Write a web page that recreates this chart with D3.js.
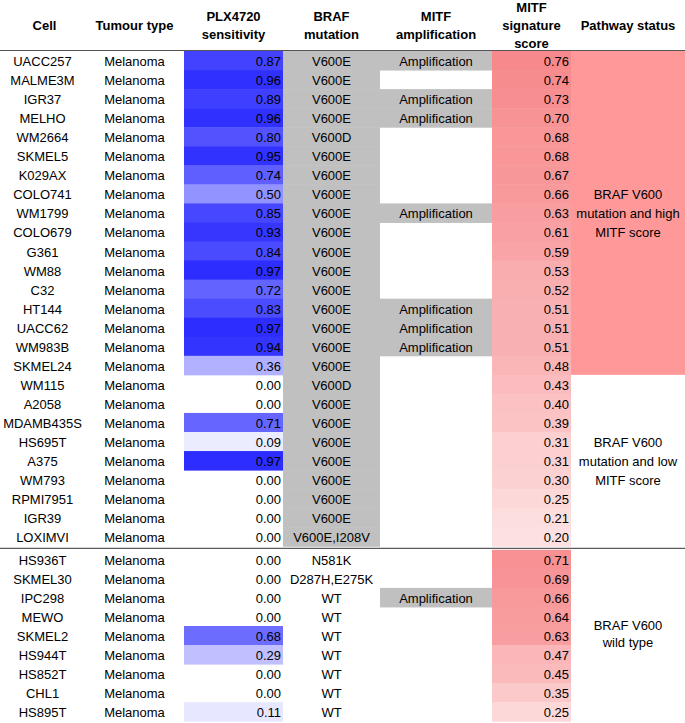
<!DOCTYPE html>
<html>
<head>
<meta charset="utf-8">
<script src="https://cdn.jsdelivr.net/npm/d3@7"></script>
<style>
  html, body { margin: 0; padding: 0; background: #fff; }
  svg { display: block; }
  text { font-family: "Liberation Sans", Arial, sans-serif; font-size: 13px; fill: #000; }
  .hdr { font-weight: bold; }
</style>
</head>
<body>
<svg id="chart" width="685" height="723"></svg>
<script>
const cells = ["UACC257","MALME3M","IGR37","MELHO","WM2664","SKMEL5","K029AX","COLO741","WM1799","COLO679","G361","WM88","C32","HT144","UACC62","WM983B","SKMEL24","WM115","A2058","MDAMB435S","HS695T","A375","WM793","RPMI7951","IGR39","LOXIMVI","HS936T","SKMEL30","IPC298","MEWO","SKMEL2","HS944T","HS852T","CHL1","HS895T"];
const tumour = cells.map(() => "Melanoma");
const plx = [0.87,0.96,0.89,0.96,0.80,0.95,0.74,0.50,0.85,0.93,0.84,0.97,0.72,0.83,0.97,0.94,0.36,0.00,0.00,0.71,0.09,0.97,0.00,0.00,0.00,0.00,0.00,0.00,0.00,0.00,0.68,0.29,0.00,0.00,0.11];
const braf = ["V600E","V600E","V600E","V600E","V600D","V600E","V600E","V600E","V600E","V600E","V600E","V600E","V600E","V600E","V600E","V600E","V600E","V600D","V600E","V600E","V600E","V600E","V600E","V600E","V600E","V600E,I208V","N581K","D287H,E275K","WT","WT","WT","WT","WT","WT","WT"];
const amplified = ["UACC257","IGR37","MELHO","WM1799","HT144","UACC62","WM983B","IPC298"];
const score = [0.76,0.74,0.73,0.70,0.68,0.68,0.67,0.66,0.63,0.61,0.59,0.53,0.52,0.51,0.51,0.51,0.48,0.43,0.40,0.39,0.31,0.31,0.30,0.25,0.21,0.20,0.71,0.69,0.66,0.64,0.63,0.47,0.45,0.35,0.25];
const groupNames = [["BRAF V600","mutation and high","MITF score"],["BRAF V600","mutation and low","MITF score"],["BRAF V600","wild type"]];
const groupStart = [0, 17, 26];
const groupEnd = [16, 25, 34];
const headers = [["Cell"],["Tumour type"],["PLX4720","sensitivity"],["BRAF","mutation"],["MITF","amplification"],["MITF","signature","score"],["Pathway status"]];

const svg = d3.select("#chart");
const W = 685;

// column boundaries
const colEdges = [0, 85, 184, 283, 380, 492, 571, 685];
const colCenter = i => (colEdges[i] + colEdges[i+1]) / 2;

// rows
const rowH = 19.05;
const y = d3.scaleBand().domain(cells).range([51, 51 + rowH * cells.length]).paddingInner(0).paddingOuter(0);
const groupGap = 3.5;
const rowTop = (c, i) => y(c) + (i >= 26 ? groupGap : 0);

const blue = d3.scaleLinear().domain([0, 1]).range(["#ffffff", "#2727ff"]);
const red = d3.scaleLinear().domain([0, 1]).range(["#ffffff", "#f46468"]);

const data = cells.map((c, i) => ({cell: c, i, tumour: tumour[i], plx: plx[i], braf: braf[i], amp: amplified.includes(c), score: score[i]}));

// pathway fill for group 1
svg.append("rect")
  .attr("x", colEdges[6]).attr("width", colEdges[7] - colEdges[6])
  .attr("y", rowTop(cells[groupStart[0]], groupStart[0]))
  .attr("height", rowTop(cells[groupEnd[0]], groupEnd[0]) + y.bandwidth() - rowTop(cells[groupStart[0]], groupStart[0]))
  .attr("fill", "#ff9999");

// BRAF gray column (mutated rows)
data.filter(d => d.i < 26).forEach(d => {
  svg.append("rect").attr("x", colEdges[3]).attr("width", colEdges[4] - colEdges[3])
    .attr("y", rowTop(d.cell, d.i)).attr("height", y.bandwidth() + 0.5).attr("fill", "#c0c0c0");
});

// cells
const rows = svg.append("g").selectAll("g").data(data).join("g")
  .attr("transform", d => `translate(0,${rowTop(d.cell, d.i)})`);

rows.filter(d => d.plx > 0).append("rect")
  .attr("x", colEdges[2]).attr("width", colEdges[3] - colEdges[2])
  .attr("height", y.bandwidth() + 0.5).attr("fill", d => blue(d.plx));

rows.filter(d => d.amp).append("rect")
  .attr("x", colEdges[4]).attr("width", colEdges[5] - colEdges[4])
  .attr("height", y.bandwidth() + 0.5).attr("fill", "#c0c0c0");

rows.append("rect")
  .attr("x", colEdges[5]).attr("width", colEdges[6] - colEdges[5])
  .attr("height", y.bandwidth() + 0.5).attr("fill", d => red(d.score));

const cy = y.bandwidth() / 2 + 1;
rows.append("text").attr("x", colCenter(0)).attr("y", cy).attr("text-anchor", "middle").attr("dominant-baseline", "central").text(d => d.cell);
rows.append("text").attr("x", colCenter(1)).attr("y", cy).attr("text-anchor", "middle").attr("dominant-baseline", "central").text(d => d.tumour);
rows.append("text").attr("x", colEdges[3] - 2).attr("y", cy).attr("text-anchor", "end").attr("dominant-baseline", "central").text(d => d.plx.toFixed(2));
rows.append("text").attr("x", colCenter(3)).attr("y", cy).attr("text-anchor", "middle").attr("dominant-baseline", "central").text(d => d.braf);
rows.filter(d => d.amp).append("text").attr("x", colCenter(4)).attr("y", cy).attr("text-anchor", "middle").attr("dominant-baseline", "central").text("Amplification");
rows.append("text").attr("x", colEdges[6] - 2).attr("y", cy).attr("text-anchor", "end").attr("dominant-baseline", "central").text(d => d.score.toFixed(2));

// pathway labels
groupNames.forEach((lines, g) => {
  const top = rowTop(cells[groupStart[g]], groupStart[g]);
  const bot = rowTop(cells[groupEnd[g]], groupEnd[g]) + y.bandwidth();
  const mid = (top + bot) / 2;
  const lh = g === 2 ? 17.5 : 19;
  const t = svg.append("text").attr("text-anchor", "middle").attr("dominant-baseline", "central");
  lines.forEach((ln, k) => {
    t.append("tspan").attr("x", colCenter(6)).attr("y", mid + (k - (lines.length - 1) / 2) * lh + (g === 2 ? -2 : 0)).text(ln);
  });
});

// headers
headers.forEach((lines, i) => {
  const lh = lines.length === 3 ? 18 : 18.5;
  const center = 25;
  const t = svg.append("text").attr("class", "hdr").attr("text-anchor", "middle").attr("dominant-baseline", "central");
  lines.forEach((ln, k) => {
    t.append("tspan").attr("x", colCenter(i) + (i === 0 ? 2 : 0)).attr("y", center + (k - (lines.length - 1) / 2) * lh).text(ln);
  });
});

// horizontal rules
svg.append("line").attr("x1", 0).attr("x2", W).attr("y1", 50.5).attr("y2", 50.5).attr("stroke", "#555").attr("stroke-width", 1);
const sepY = rowTop(cells[26], 26) - 1.5;
svg.append("line").attr("x1", 0).attr("x2", W).attr("y1", sepY).attr("y2", sepY).attr("stroke", "#333").attr("stroke-width", 1);
</script>
</body>
</html>
